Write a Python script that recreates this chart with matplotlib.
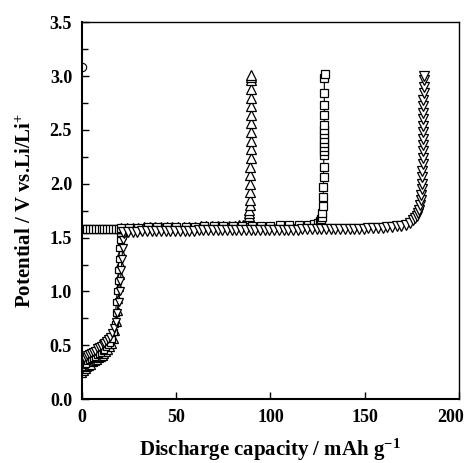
import numpy as np
import matplotlib.pyplot as plt
from matplotlib.transforms import ScaledTranslation

# low-voltage start (shared by the cells)
low_x_a = [0, 1, 2, 3, 4, 5, 6, 7, 8, 9, 10, 11, 12, 13, 14, 15, 16, 16.8, 17.4, 17.9,
           18.3, 18.7, 19.0, 19.3, 19.6, 19.9, 20.2, 20.5, 20.8]
low_v_a = [0.30, 0.32, 0.33, 0.35, 0.36, 0.37, 0.38, 0.39, 0.41, 0.42, 0.43, 0.45, 0.46, 0.48,
           0.50, 0.52, 0.56, 0.62, 0.70, 0.80, 0.90, 1.00, 1.10, 1.20, 1.30, 1.40, 1.48, 1.54, 1.57]
low_x_b = [0, 1, 2, 3, 4, 5, 6, 7, 8, 9, 10, 11, 12, 13, 14, 15, 16, 17, 17.8, 18.5,
           19.0, 19.4, 19.8, 20.1, 20.4, 20.7, 21.0, 21.3, 21.6]
low_v_b = [0.24, 0.26, 0.28, 0.30, 0.31, 0.32, 0.34, 0.35, 0.36, 0.38, 0.39, 0.40, 0.42, 0.44,
           0.46, 0.48, 0.51, 0.56, 0.63, 0.72, 0.82, 0.93, 1.04, 1.15, 1.26, 1.37, 1.46, 1.52, 1.56]
low_x_c = [0, 1, 2, 3, 4, 5, 6, 7, 8, 9, 10, 11, 12, 13, 14, 15, 16, 17, 18, 18.8,
           19.5, 20.0, 20.5, 20.9, 21.3, 21.6, 21.9, 22.2, 22.5]
low_v_c = [0.36, 0.38, 0.39, 0.41, 0.42, 0.43, 0.44, 0.45, 0.47, 0.48, 0.49, 0.51, 0.52, 0.54,
           0.56, 0.58, 0.61, 0.66, 0.72, 0.80, 0.90, 1.00, 1.10, 1.20, 1.30, 1.40, 1.48, 1.53, 1.57]

# cell 1: up triangles, ~89 mAh/g
tri_x = [21, 24, 27, 30, 33, 36, 39, 42, 45, 48, 51, 54, 57, 60, 63, 66, 69, 72, 75, 78,
         81, 83.5, 85.5, 86.8, 87.6, 88.1, 88.4, 88.6, 88.8, 88.9, 89.0, 89.1, 89.2, 89.3,
         89.4, 89.4, 89.5, 89.5, 89.5, 89.6, 89.6, 89.6, 89.6, 89.6, 89.7, 89.7, 89.7, 89.7]
tri_v = [1.59, 1.59, 1.59, 1.59, 1.60, 1.60, 1.60, 1.60, 1.60, 1.60, 1.60, 1.60, 1.60, 1.60,
         1.61, 1.61, 1.61, 1.61, 1.61, 1.61, 1.61, 1.62, 1.62, 1.63, 1.64, 1.66, 1.68, 1.70,
         1.73, 1.76, 1.80, 1.85, 1.92, 2.00, 2.08, 2.16, 2.24, 2.32, 2.40, 2.48, 2.56, 2.64,
         2.72, 2.80, 2.88, 2.96, 2.99, 3.01]

# cell 2: squares, ~128 mAh/g
sq_x = [0, 1.5, 3, 4.5, 6, 7.5, 9, 10.5, 12, 13.5, 15, 16.5, 18, 19.5, 21, 25, 30, 35, 40,
        45, 50, 55, 60, 65, 70, 75, 80, 85, 90, 95, 100, 105, 110, 115, 120,
        123, 125, 126.2, 126.9, 127.3, 127.6, 127.8, 128.0, 128.1, 128.2, 128.3, 128.3,
        128.4, 128.4, 128.4, 128.5, 128.5, 128.5, 128.5, 128.6, 128.6, 128.6, 128.6, 128.7]
sq_v = [1.58, 1.58, 1.58, 1.58, 1.58, 1.58, 1.58, 1.58, 1.58, 1.58, 1.58, 1.58, 1.58, 1.58,
        1.59, 1.59, 1.59, 1.60, 1.60, 1.60, 1.60, 1.60, 1.60, 1.61, 1.61, 1.61, 1.61, 1.61,
        1.61, 1.61, 1.61, 1.62, 1.62, 1.62, 1.62,
        1.63, 1.64, 1.65, 1.67, 1.69, 1.73, 1.79, 1.88, 1.97, 2.06, 2.16, 2.27,
        2.30, 2.34, 2.38, 2.42, 2.46, 2.50, 2.55, 2.64, 2.73, 2.84, 2.98, 3.02]

# cell 3: down triangles, ~180 mAh/g
dtri_x = [22, 24.5, 27, 29.5, 32, 34.5, 37, 39.5, 42, 44.5, 47, 49.5, 52, 54.5, 57, 59.5,
          62, 64.5, 67, 69.5, 72, 74.5, 77, 79.5, 82, 84.5, 87, 89.5, 92, 94.5, 97, 99.5,
          102, 104.5, 107, 109.5, 112, 114.5, 117, 119.5, 122, 124.5, 127, 129.5, 132, 134.5,
          137, 139.5, 142, 144.5, 147, 149.5, 152, 154.5, 157, 159.5, 162, 164.5, 167, 169.5,
          172, 174, 175.5, 176.6, 177.5, 178.2, 178.8, 179.3, 179.7, 180.0, 180.2, 180.4,
          180.5, 180.6, 180.7, 180.8, 180.9, 180.9, 181.0, 181.0, 181.0, 181.1, 181.1, 181.1,
          181.1, 181.2, 181.2, 181.2, 181.2]
dtri_v = [1.55, 1.55, 1.55, 1.55, 1.56, 1.56, 1.56, 1.56, 1.56, 1.56, 1.56, 1.56, 1.56, 1.56,
          1.56, 1.56, 1.57, 1.57, 1.57, 1.57, 1.57, 1.57, 1.57, 1.57, 1.57, 1.57, 1.57, 1.57,
          1.57, 1.57, 1.57, 1.57, 1.57, 1.57, 1.57, 1.57, 1.57, 1.57, 1.58, 1.58, 1.58, 1.58,
          1.58, 1.58, 1.58, 1.58, 1.58, 1.58, 1.58, 1.58, 1.58, 1.58, 1.59, 1.59, 1.59, 1.59,
          1.60, 1.60, 1.61, 1.61, 1.62, 1.64, 1.66, 1.68, 1.70, 1.73, 1.76, 1.80, 1.85, 1.90,
          1.95, 2.00, 2.06, 2.12, 2.18, 2.24, 2.30, 2.36, 2.42, 2.48, 2.54, 2.60, 2.66, 2.72,
          2.78, 2.84, 2.90, 2.96, 3.00]

circ_x = [0]
circ_v = [3.08]

x_ticks = [0, 50, 100, 150, 200]
y_labels = ['0.0', '0.5', '1.0', '1.5', '2.0', '2.5', '3.0', '3.5']

plt.rcParams['font.family'] = ['Liberation Serif', 'DejaVu Serif']
plt.rcParams['font.weight'] = 'bold'
plt.rcParams['mathtext.fontset'] = 'custom'
plt.rcParams['mathtext.rm'] = 'Liberation Serif:bold'
plt.rcParams['mathtext.bf'] = 'Liberation Serif:bold'
plt.rcParams['mathtext.default'] = 'bf'

fig = plt.figure(figsize=(4.65, 4.63), dpi=100)
ax = fig.add_axes([0.176, 0.138, 0.811, 0.814])

style = dict(color='black', mfc='white', mec='black', lw=0.8, mew=0.9)
ax.plot(low_x_b, low_v_b, marker='^', ms=6, **style)
ax.plot(low_x_a, low_v_a, marker='s', ms=5, **style)
ax.plot(low_x_c, low_v_c, marker='v', ms=6, **style)
ax.plot(tri_x, tri_v, marker='^', ms=7, **style)
ax.plot(sq_x, sq_v, marker='s', ms=6, **style)
ax.plot(dtri_x, dtri_v, marker='v', ms=7, **style)
ax.plot(circ_x, circ_v, marker='o', ms=6, ls='none', color='black', mfc='white', mew=0.8)

ax.set_xlim(0, 200)
ax.set_ylim(0, 3.5)
ax.set_xticks(x_ticks)
ax.set_yticks(np.arange(0, 3.51, 0.5))
ax.set_yticks(np.arange(0.25, 3.5, 0.5), minor=True)
ax.set_yticklabels(y_labels)
ax.tick_params(axis='both', which='both', direction='in', labelsize=13, width=1, pad=7)
ax.tick_params(which='major', length=5)
ax.tick_params(which='minor', length=4)
for side in ['top', 'right']:
    ax.spines[side].set_linewidth(1.0)
for side in ['left', 'bottom']:
    ax.spines[side].set_linewidth(1.5)

# last x label sits flush with the right edge, as in the original
last = ax.get_xticklabels()[-1]
last.set_horizontalalignment('right')
last.set_transform(last.get_transform() + ScaledTranslation(0.05, 0, fig.dpi_scale_trans))

ax.set_xlabel('Discharge capacity / mAh g$^{-1}$', fontsize=15, fontweight='bold', labelpad=8)
ax.set_ylabel('Potential / V vs.Li/Li$^{+}$', fontsize=15, fontweight='bold', labelpad=10)

fig.savefig('out.png', dpi=100)
